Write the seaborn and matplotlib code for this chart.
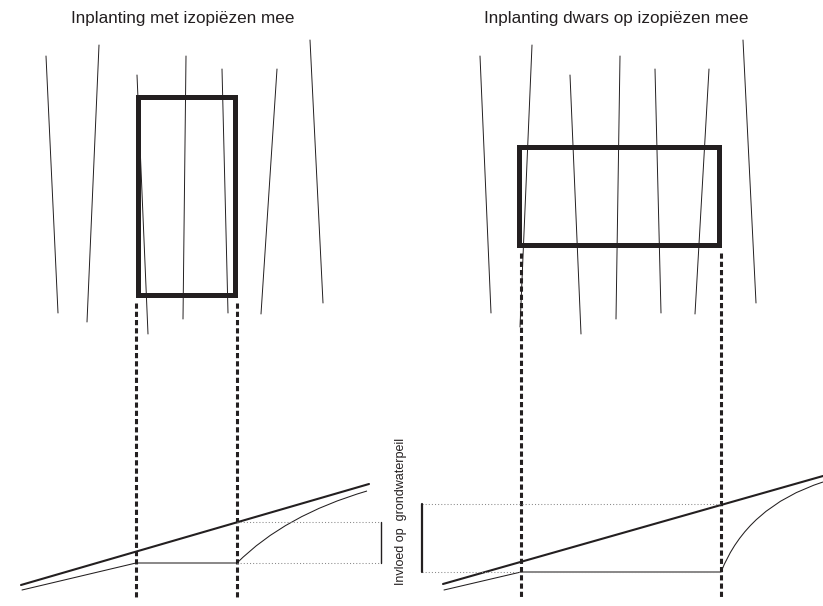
import matplotlib
matplotlib.use("Agg")
import matplotlib.pyplot as plt
from matplotlib.path import Path
from matplotlib.patches import PathPatch
import seaborn as sns
import pandas as pd

sns.set_theme(style="white")
plt.rcParams['font.family'] = ['Liberation Sans', 'DejaVu Sans']

INK = "#231f20"

# ---- data (pixel coordinates of the schematic) ----
titles = ["Inplanting met izopiëzen mee", "Inplanting dwars op izopiëzen mee"]
title_x = [183, 616]
side_label = "Invloed op  grondwaterpeil"

iso_left_top_x = [46, 99, 137, 186, 222, 277, 310]
iso_left_top_y = [56, 45, 75, 56, 69, 69, 40]
iso_left_bot_x = [58, 87, 148, 183, 228, 261, 323]
iso_left_bot_y = [313, 322, 334, 319, 313, 314, 303]
iso_right_top_x = [480, 532, 570, 620, 655, 709, 743]
iso_right_top_y = [56, 45, 75, 56, 69, 69, 40]
iso_right_bot_x = [491, 520, 581, 616, 661, 695, 756]
iso_right_bot_y = [313, 327, 334, 319, 313, 314, 303]

rect_left = [138.5, 96.5, 235.5, 294.5]     # x0, y0, x1, y1
rect_right = [519.5, 146.5, 719.5, 244.5]

dash_left_x = [136, 237]
dash_left_y = [303, 597]
dash_right_x = [521, 721]
dash_right_y = [253, 597]

thick_left_x = [21, 369]
thick_left_y = [585, 484]
thin_left_x = [22, 136, 237]
thin_left_y = [590, 563, 563]
curve_left_x = [237, 285, 367]
curve_left_y = [563, 515, 491]
dot_left_x = [237, 381]
dot_left_y = [522, 563]
bar_left_x = 381
bar_left_y = [522, 563]

thick_right_x = [443, 823]
thick_right_y = [584, 476]
thin_right_x = [444, 521, 721]
thin_right_y = [590, 572, 572]
curve_right_x = [721, 747, 823]
curve_right_y = [572, 506.5, 482]
dot_right_x = [422, 721]
dot_right_y = [504, 572]
bar_right_x = 422
bar_right_y = [504, 572]

# ---- figure ----
fig = plt.figure(figsize=(8.23, 6.06), dpi=100)
ax = fig.add_axes([0, 0, 1, 1])

# isopiezes via seaborn
rows = []
for k, (tx, ty, bx, by) in enumerate([
        (iso_left_top_x, iso_left_top_y, iso_left_bot_x, iso_left_bot_y),
        (iso_right_top_x, iso_right_top_y, iso_right_bot_x, iso_right_bot_y)]):
    for i in range(len(tx)):
        uid = f"{k}-{i}"
        rows.append({"u": uid, "x": tx[i], "y": ty[i]})
        rows.append({"u": uid, "x": bx[i], "y": by[i]})
iso = pd.DataFrame(rows)
sns.lineplot(data=iso, x="x", y="y", units="u", estimator=None, sort=False,
             color=INK, linewidth=0.7, ax=ax, legend=False)
ax.set_xlim(0, 823)
ax.set_ylim(606, 0)
ax.set_xlabel("")
ax.set_ylabel("")
ax.axis("off")

# rectangles
for r in (rect_left, rect_right):
    x0, y0, x1, y1 = r
    ax.plot([x0, x1, x1, x0, x0], [y0, y0, y1, y1, y0], color=INK,
            linewidth=3.6, solid_joinstyle="miter", solid_capstyle="projecting")

# dashed verticals
for xs, ys in ((dash_left_x, dash_left_y), (dash_right_x, dash_right_y)):
    for x in xs:
        ax.plot([x, x], ys, color=INK, linewidth=2.2, linestyle=(0, (1.7, 1.0)),
                dash_capstyle="butt")

# bottom profiles
for tx, ty, nx, ny, cx, cy in (
        (thick_left_x, thick_left_y, thin_left_x, thin_left_y, curve_left_x, curve_left_y),
        (thick_right_x, thick_right_y, thin_right_x, thin_right_y, curve_right_x, curve_right_y)):
    ax.plot(tx, ty, color=INK, linewidth=1.5)
    ax.plot(nx, ny, color=INK, linewidth=0.75)
    path = Path(list(zip(cx, cy)), [Path.MOVETO, Path.CURVE3, Path.CURVE3])
    ax.add_patch(PathPatch(path, facecolor="none", edgecolor=INK, linewidth=0.75))

# dotted reference lines and bars
for dx, dy, bx, by, bw in (
        (dot_left_x, dot_left_y, bar_left_x, bar_left_y, 1.0),
        (dot_right_x, dot_right_y, bar_right_x, bar_right_y, 1.6)):
    for y in dy:
        ax.plot(dx, [y, y], color="#8a8a8a", linewidth=0.75, linestyle=(0, (1, 2)))
    ax.plot([bx, bx], by, color=INK, linewidth=bw)

# texts
for t, x in zip(titles, title_x):
    ax.text(x, 18, t, ha="center", va="center", fontsize=12.3, color=INK)
ax.text(401, 511, side_label, rotation=90, ha="center", va="center",
        fontsize=9, color=INK)

fig.savefig("out.png", dpi=100)
